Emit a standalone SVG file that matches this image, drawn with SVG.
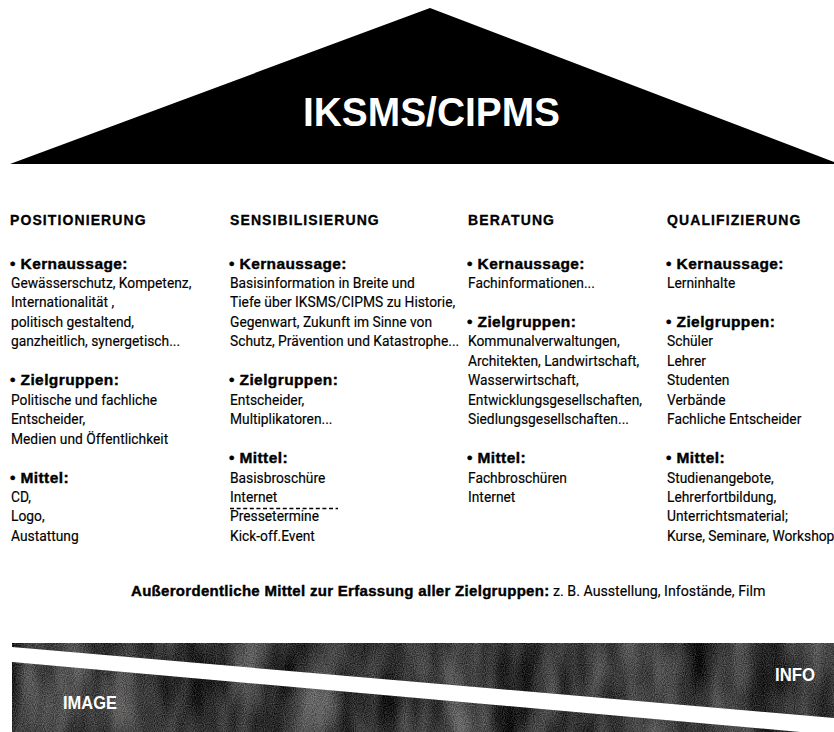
<svg xmlns="http://www.w3.org/2000/svg" width="834" height="732" viewBox="0 0 834 732">
  <style>
    .head { font-family: "Liberation Sans", Arial, sans-serif; font-weight: 700; font-size: 14px; letter-spacing: 1.1px; fill: #000; stroke: #000; stroke-width: 0.3px; }
    .lab  { font-family: "Liberation Sans", Arial, sans-serif; font-weight: 700; font-size: 15.5px; letter-spacing: 0.4px; fill: #000; stroke: #000; stroke-width: 0.4px; }
    .txt  { font-family: Roboto, "Liberation Sans", Arial, sans-serif; font-size: 13.8px; fill: #000; stroke: #000; stroke-width: 0.15px; }
    .note-b { font-size: 15px; letter-spacing: 0.3px; }
    .note-r { font-size: 14.2px; }
    .white { font-family: "Liberation Sans", Arial, sans-serif; font-weight: 700; fill: #fff; }
  </style>
  <defs>
    <!-- mottled, grainy grey texture for the lower band -->
    <filter id="grain" x="0" y="0" width="100%" height="100%" color-interpolation-filters="sRGB">
      <feTurbulence type="fractalNoise" baseFrequency="0.025 0.008" numOctaves="3" seed="11" result="streaks"/>
      <feColorMatrix in="streaks" type="matrix" result="streakGrey"
        values="0.6 0 0 0 -0.1  0.6 0 0 0 -0.1  0.6 0 0 0 -0.1  0 0 0 0 1"/>
      <feTurbulence type="fractalNoise" baseFrequency="0.9" numOctaves="1" seed="3" result="fine"/>
      <feColorMatrix in="fine" type="matrix" result="fineGrey"
        values="1 0 0 0 0  1 0 0 0 0  1 0 0 0 0  0 0 0 0 1"/>
      <feComposite in="streakGrey" in2="fineGrey" operator="arithmetic" k1="0" k2="1" k3="0.45" k4="-0.2" result="mix"/>
      <feComposite in="mix" in2="SourceGraphic" operator="in"/>
    </filter>
    <clipPath id="bandClip">
      <polygon points="12,643 834,643 834,718 12,647"/>
      <polygon points="12,662 834,735 834,740 12,740"/>
    </clipPath>
  </defs>

  <rect width="834" height="732" fill="#fff"/>

  <!-- roof -->
  <g id="roof">
    <polygon points="10,164 430,8 834,162 834,164" fill="#000"/>
    <text class="white" x="303" y="126" font-size="41" textLength="257" lengthAdjust="spacingAndGlyphs">IKSMS/CIPMS</text>
  </g>

  <!-- column 1 -->
  <g id="positionierung">
    <text class="head" x="10" y="225">POSITIONIERUNG</text>
    <text class="lab" x="10" y="268.5">• Kernaussage:</text>
    <text class="txt" x="11" y="288">Gewässerschutz, Kompetenz,</text>
    <text class="txt" x="11" y="307.4">Internationalität ,</text>
    <text class="txt" x="11" y="326.9">politisch gestaltend,</text>
    <text class="txt" x="11" y="346.3">ganzheitlich, synergetisch...</text>
    <text class="lab" x="10" y="385.2">• Zielgruppen:</text>
    <text class="txt" x="11" y="404.7">Politische und fachliche</text>
    <text class="txt" x="11" y="424.1">Entscheider,</text>
    <text class="txt" x="11" y="443.6">Medien und Öffentlichkeit</text>
    <text class="lab" x="10" y="482.5">• Mittel:</text>
    <text class="txt" x="11" y="501.9">CD,</text>
    <text class="txt" x="11" y="521.4">Logo,</text>
    <text class="txt" x="11" y="540.8">Austattung</text>
  </g>

  <!-- column 2 -->
  <g id="sensibilisierung">
    <text class="head" x="230" y="225">SENSIBILISIERUNG</text>
    <text class="lab" x="229" y="268.5">• Kernaussage:</text>
    <text class="txt" x="230" y="288">Basisinformation in Breite und</text>
    <text class="txt" x="230" y="307.4">Tiefe über IKSMS/CIPMS zu Historie,</text>
    <text class="txt" x="230" y="326.9">Gegenwart, Zukunft im Sinne von</text>
    <text class="txt" x="230" y="346.3">Schutz, Prävention und Katastrophe...</text>
    <text class="lab" x="229" y="385.2">• Zielgruppen:</text>
    <text class="txt" x="230" y="404.7">Entscheider,</text>
    <text class="txt" x="230" y="424.1">Multiplikatoren...</text>
    <text class="lab" x="229" y="463">• Mittel:</text>
    <text class="txt" x="230" y="482.5">Basisbroschüre</text>
    <text class="txt" x="230" y="501.9">Internet</text>
    <line x1="230" y1="508.5" x2="338" y2="508.5" stroke="#000" stroke-width="1.3" stroke-dasharray="4 2.6"/>
    <text class="txt" x="230" y="521.4">Pressetermine</text>
    <text class="txt" x="230" y="540.8">Kick-off.Event</text>
  </g>

  <!-- column 3 -->
  <g id="beratung">
    <text class="head" x="468" y="225">BERATUNG</text>
    <text class="lab" x="467" y="268.5">• Kernaussage:</text>
    <text class="txt" x="468" y="288">Fachinformationen...</text>
    <text class="lab" x="467" y="326.9">• Zielgruppen:</text>
    <text class="txt" x="468" y="346.3">Kommunalverwaltungen,</text>
    <text class="txt" x="468" y="365.8">Architekten, Landwirtschaft,</text>
    <text class="txt" x="468" y="385.2">Wasserwirtschaft,</text>
    <text class="txt" x="468" y="404.7">Entwicklungsgesellschaften,</text>
    <text class="txt" x="468" y="424.1">Siedlungsgesellschaften...</text>
    <text class="lab" x="467" y="463">• Mittel:</text>
    <text class="txt" x="468" y="482.5">Fachbroschüren</text>
    <text class="txt" x="468" y="501.9">Internet</text>
  </g>

  <!-- column 4 -->
  <g id="qualifizierung">
    <text class="head" x="667" y="225">QUALIFIZIERUNG</text>
    <text class="lab" x="666" y="268.5">• Kernaussage:</text>
    <text class="txt" x="667" y="288">Lerninhalte</text>
    <text class="lab" x="666" y="326.9">• Zielgruppen:</text>
    <text class="txt" x="667" y="346.3">Schüler</text>
    <text class="txt" x="667" y="365.8">Lehrer</text>
    <text class="txt" x="667" y="385.2">Studenten</text>
    <text class="txt" x="667" y="404.7">Verbände</text>
    <text class="txt" x="667" y="424.1">Fachliche Entscheider</text>
    <text class="lab" x="666" y="463">• Mittel:</text>
    <text class="txt" x="667" y="482.5">Studienangebote,</text>
    <text class="txt" x="667" y="501.9">Lehrerfortbildung,</text>
    <text class="txt" x="667" y="521.4">Unterrichtsmaterial;</text>
    <text class="txt" x="667" y="540.8">Kurse, Seminare, Workshops</text>
  </g>

  <!-- note across all columns -->
  <g id="note">
    <text x="131" y="596"><tspan class="lab note-b">Außerordentliche Mittel zur Erfassung aller Zielgruppen:</tspan><tspan class="txt note-r"> z. B. Ausstellung, Infostände, Film</tspan></text>
  </g>

  <!-- lower band split by a white diagonal -->
  <g id="band">
    <rect x="12" y="643" width="822" height="89" fill="#333" clip-path="url(#bandClip)" filter="url(#grain)"/>
    <text class="white" x="63" y="709" font-size="18" textLength="54" lengthAdjust="spacingAndGlyphs">IMAGE</text>
    <text class="white" x="775" y="681" font-size="18" textLength="40" lengthAdjust="spacingAndGlyphs">INFO</text>
  </g>
</svg>
